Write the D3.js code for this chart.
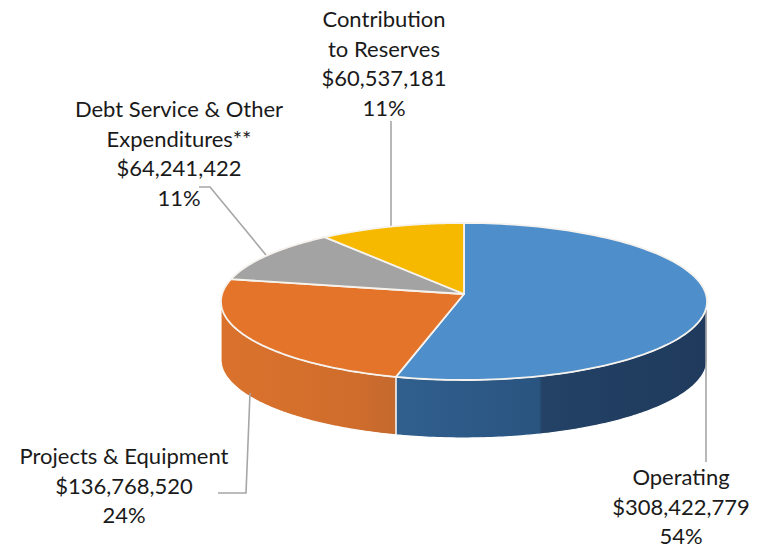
<!DOCTYPE html>
<html>
<head>
<meta charset="utf-8">
<script src="https://cdn.jsdelivr.net/npm/d3@7"></script>
<style>
  html, body { margin: 0; padding: 0; background: #fff; }
  svg { display: block; }
  text { font-family: Lato, "Open Sans", sans-serif; font-size: 22px; fill: #1a1a1a; text-anchor: middle; }
</style>
</head>
<body>
<svg id="chart" width="763" height="548"></svg>
<script>
// Budget categories, in clockwise order from twelve o'clock
const categories = ["Operating", "Projects & Equipment", "Debt Service & Other Expenditures**", "Contribution to Reserves"];
const amounts = [308422779, 136768520, 64241422, 60537181];
const labelLines = [["Operating"], ["Projects & Equipment"], ["Debt Service & Other", "Expenditures**"], ["Contribution", "to Reserves"]];
const topColors = ["#4e8ecb", "#e4742a", "#a3a3a3", "#f7b900"];

// Label placement: centre x, first baseline
const labelX = [681, 124, 179, 384];
const labelY = [485, 464, 117, 27];
const lineStep = 29.6;

// Leader line routes, label side first
const leaders = [
  [[706, 310], [706, 462]],
  [[218, 493], [246, 493], [250, 393]],
  [[199, 187], [210, 187], [266, 255]],
  [[391, 121], [391, 226]]
];

// Tilted disc: a unit circle seen through a perspective divide
const apex = { x: 464, y: 294 };
const spreadX = 241.9, spreadY = 77.8, perspective = 0.0955, depth = 58;

const project = (angle, r = 1) => {
  const u = r * Math.sin(angle), v = r * Math.cos(angle);
  const w = 1 + perspective * v;
  return [apex.x + spreadX * u / w, apex.y - spreadY * v / w];
};

const svg = d3.select("#chart");
const defs = svg.append("defs");
const moneyFmt = d3.format("$,");
const pctFmt = d3.format(".0%");
const total = d3.sum(amounts);
const slices = d3.pie().sort(null)(amounts);
const line = d3.line();

// Rim shading runs left to right across the visible wall
const rimShades = [
  { id: "rimBlue", stops: [[0, "#305f8e"], [0.46, "#2a5480"], [0.47, "#234266"], [1, "#1f3a5c"]] },
  { id: "rimOrange", stops: [[0, "#da722c"], [0.75, "#d06d2c"], [1, "#c4692e"]] }
];
rimShades.forEach(s => {
  const g = defs.append("linearGradient").attr("id", s.id);
  s.stops.forEach(([o, c]) => g.append("stop").attr("offset", o).attr("stop-color", c));
});

const arcSamples = (a0, a1) => d3.range(0, 121).map(i => a0 + (a1 - a0) * i / 120);

// The wall shows only on the near half of the disc
const rightExtreme = Math.PI / 2 + Math.atan(perspective);
const leftExtreme = 2 * Math.PI - rightExtreme;
const wall = (a0, a1) => {
  const rim = arcSamples(a0, a1).map(a => project(a));
  const lower = rim.slice().reverse().map(([x, y]) => [x, y + depth]);
  return line(rim.concat(lower)) + "Z";
};

const walls = [
  { from: rightExtreme, to: slices[0].endAngle, fill: "url(#rimBlue)" },
  { from: slices[1].startAngle, to: leftExtreme, fill: "url(#rimOrange)" }
];
svg.append("g").selectAll("path").data(walls).join("path")
  .attr("d", d => wall(d.from, d.to))
  .attr("fill", d => d.fill)
  .attr("stroke", "#fff")
  .attr("stroke-width", 1.2)
  .attr("stroke-linejoin", "round");

// Leader lines sit under the disc top
svg.append("g").selectAll("path").data(leaders).join("path")
  .attr("d", d => line(d))
  .attr("fill", "none")
  .attr("stroke", "#a6a6a6")
  .attr("stroke-width", 1.6);

// Disc top
const wedge = d => {
  const rim = arcSamples(d.startAngle, d.endAngle).map(a => project(a));
  return line([[apex.x, apex.y]].concat(rim)) + "Z";
};
svg.append("g").selectAll("path").data(slices).join("path")
  .attr("d", wedge)
  .attr("fill", (d, i) => topColors[i])
  .attr("stroke", "#f6f3ee")
  .attr("stroke-width", 1.8)
  .attr("stroke-linejoin", "round");

// Category, amount and share labels
const labels = svg.append("g").selectAll("text").data(slices).join("text")
  .attr("x", (d, i) => labelX[i])
  .attr("y", (d, i) => labelY[i]);
labels.each(function (d, i) {
  const rows = labelLines[i].concat([moneyFmt(amounts[i]), pctFmt(amounts[i] / total)]);
  d3.select(this).selectAll("tspan").data(rows).join("tspan")
    .attr("x", labelX[i])
    .attr("dy", (r, k) => k ? lineStep : 0)
    .text(r => r);
});
</script>
</body>
</html>
